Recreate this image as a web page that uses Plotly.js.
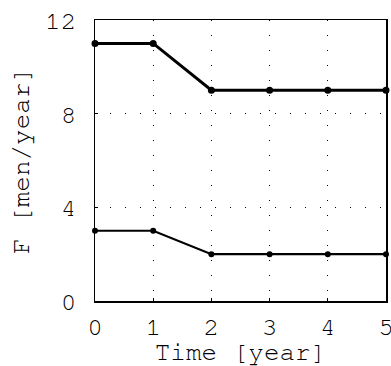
<!DOCTYPE html>
<html><head><meta charset="utf-8">
<script src="https://cdn.plot.ly/plotly-3.0.1.min.js"></script>
<style>html,body{margin:0;padding:0;background:#fff}#plot{width:391px;height:366px}</style>
</head><body><div id="plot"></div>
<script>
var years = [0, 1, 2, 3, 4, 5];
var upperF = [11, 11, 9, 9, 9, 9];
var lowerF = [3, 3, 2, 2, 2, 2];
var xTicks = [0, 1, 2, 3, 4, 5];
var yTicks = [0, 4, 8, 12];

var font = 'Nimbus Mono PS, Nimbus Mono L, FreeMono, Courier, Courier New, Liberation Mono, monospace';
var traces = [
  {x: years, y: upperF, mode: 'lines+markers', line: {color: '#000', width: 3}, marker: {color: '#000', size: 7}, cliponaxis: false},
  {x: years, y: lowerF, mode: 'lines+markers', line: {color: '#000', width: 2.2}, marker: {color: '#000', size: 6}, cliponaxis: false}
];
var axisCommon = {
  showline: true, linecolor: '#000', linewidth: 1.5, mirror: true,
  ticks: 'inside', ticklen: 3, tickcolor: '#000', tickwidth: 1,
  showgrid: true, gridcolor: '#000', gridwidth: 1, griddash: '1px,14px',
  zeroline: false, tickfont: {family: font, size: 26, color: '#000'},
  ticklabeloverflow: 'allow'
};
var layout = {
  width: 391, height: 366,
  margin: {l: 95, r: 5, t: 20, b: 65},
  paper_bgcolor: '#fff', plot_bgcolor: '#fff',
  showlegend: false,
  xaxis: Object.assign({}, axisCommon, {range: [0, 5], tickvals: xTicks, ticktext: xTicks.map(String),
    ticklabelstandoff: 1,
    title: {text: 'Time [year]', font: {family: font, size: 26, color: '#000'}, standoff: 4}}),
  yaxis: Object.assign({}, axisCommon, {range: [0, 12], tickvals: yTicks, ticktext: yTicks.map(String),
    ticklabelstandoff: 12,
    title: {text: 'F [men/year]', font: {family: font, size: 26, color: '#000'}, standoff: 8}})
};
Plotly.newPlot('plot', traces, layout, {staticPlot: true});
</script></body></html>
